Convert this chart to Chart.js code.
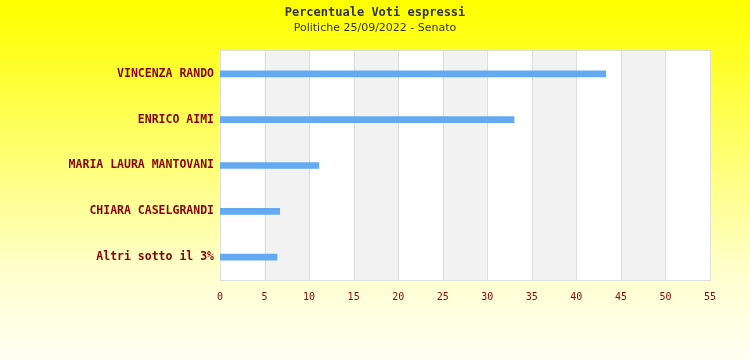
<!DOCTYPE html>
<html><head><meta charset="utf-8">
<script src="https://cdn.jsdelivr.net/npm/chart.js@4"></script>
<style>html,body{margin:0;padding:0;background:#fff}#wrap{width:750px;height:360px}</style>
</head><body><div id="wrap"><canvas id="c" width="750" height="360"></canvas></div>
<script>
const titleText = "Percentuale Voti espressi";
const subtitleText = "Politiche 25/09/2022 - Senato";
const categories = ["VINCENZA RANDO", "ENRICO AIMI", "MARIA LAURA MANTOVANI", "CHIARA CASELGRANDI", "Altri sotto il 3%"];
const values = [43.3, 33.0, 11.1, 6.7, 6.4];
const xTicks = [0, 5, 10, 15, 20, 25, 30, 35, 40, 45, 50, 55];

const bgPlugin = {
  id: 'bg',
  beforeDraw(chart) {
    const ctx = chart.ctx, w = chart.width, h = chart.height;
    const g = ctx.createLinearGradient(0, 0, 0, h);
    g.addColorStop(0, '#ffff00');
    g.addColorStop(0.08, '#ffff10');
    g.addColorStop(0.75, '#ffffcc');
    g.addColorStop(1, '#fffff4');
    ctx.save();
    ctx.fillStyle = g;
    ctx.fillRect(0, 0, w, h);
    const a = chart.chartArea, xs = chart.scales.x;
    const top = a.top - 1;
    ctx.fillStyle = '#ffffff';
    ctx.fillRect(a.left, top, a.right - a.left, a.bottom - top);
    ctx.fillStyle = '#f2f2f2';
    for (let i = 1; i < xTicks.length - 1; i += 2) {
      const x0 = xs.getPixelForValue(xTicks[i]);
      const x1 = xs.getPixelForValue(xTicks[i + 1]);
      ctx.fillRect(x0, top, x1 - x0, a.bottom - top);
    }
    ctx.strokeStyle = '#dddddd';
    ctx.lineWidth = 1;
    for (let i = 1; i < xTicks.length - 1; i++) {
      const x = Math.round(xs.getPixelForValue(xTicks[i])) + 0.5;
      ctx.beginPath(); ctx.moveTo(x, top); ctx.lineTo(x, a.bottom); ctx.stroke();
    }
    ctx.strokeRect(Math.round(a.left) + 0.5, Math.round(top) + 0.5, Math.round(a.right - a.left), Math.round(a.bottom - top));
    ctx.textAlign = 'center';
    ctx.textBaseline = 'middle';
    ctx.fillStyle = '#333333';
    ctx.font = 'bold 12px "DejaVu Sans Mono", monospace';
    ctx.fillText(titleText, 375, 13);
    ctx.font = '11px "DejaVu Sans", sans-serif';
    ctx.fillText(subtitleText, 375, 28);
    ctx.restore();
  }
};

new Chart(document.getElementById('c'), {
  type: 'bar',
  data: {
    labels: categories,
    datasets: [{ data: values, backgroundColor: '#63aaf2', barThickness: 6, borderWidth: 0 }]
  },
  plugins: [bgPlugin],
  options: {
    indexAxis: 'y',
    responsive: false,
    animation: false,
    devicePixelRatio: 1,
    layout: { padding: { left: 0, right: 40, top: 51, bottom: 50 } },
    plugins: { legend: { display: false }, tooltip: { enabled: false } },
    scales: {
      x: {
        min: 0, max: 55,
        afterBuildTicks(s) { s.ticks = xTicks.map(v => ({ value: v })); },
        afterFit(s) { s.height = 30; },
        grid: { display: false, drawTicks: false },
        border: { display: false },
        ticks: { color: '#990000', padding: 11, font: { family: '"DejaVu Sans Mono", monospace', size: 10 } }
      },
      y: {
        afterFit(s) { s.width = 220; },
        grid: { display: false, drawTicks: false },
        border: { display: false },
        ticks: { color: '#8b0000', padding: 6, font: { family: '"DejaVu Sans Mono", monospace', size: 11.5, weight: 'bold' } }
      }
    }
  }
});
</script></body></html>
